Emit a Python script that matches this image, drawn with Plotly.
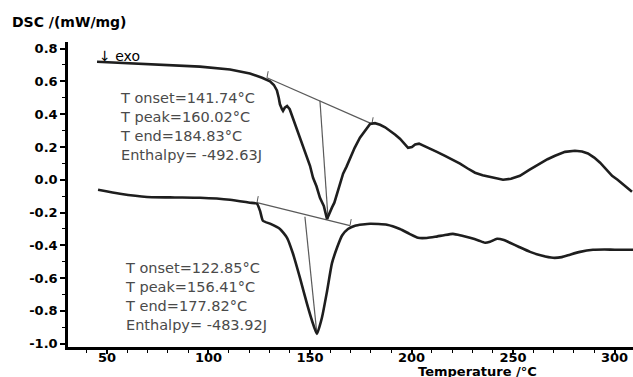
import plotly.graph_objects as go

# ---- data ----
upper_T = [45.1, 60.0, 71.2, 85.0, 95.8, 110.6, 120.4, 126.4, 130.3, 132.2, 133.7, 134.6, 135.2, 136.2,
           136.7, 137.6, 138.7, 140.0, 141.6, 143.2, 145.1, 146.8, 148.5, 150.0, 151.5, 153.2, 154.9,
           156.8, 158.4, 159.5, 160.8, 162.0, 163.3, 164.8, 166.3, 168.0, 169.7, 172.0, 174.6, 177.0,
           179.6, 182.0, 184.5, 187.0, 189.4, 192.0, 194.3, 196.5, 198.3, 200.2, 201.8, 203.7, 206.5,
           209.1, 212.5, 216.5, 220.0, 223.9, 227.5, 231.3, 235.0, 238.7, 242.0, 245.1, 249.0, 253.4,
           258.0, 263.3, 267.0, 270.7, 275.6, 280.5, 284.0, 286.9, 290.0, 292.9, 296.0, 298.8, 301.5,
           303.7, 306.0, 308.6]
upper_v = [0.720, 0.710, 0.703, 0.697, 0.690, 0.672, 0.648, 0.622, 0.600, 0.578, 0.545, 0.500, 0.460, 0.430,
           0.420, 0.440, 0.450, 0.430, 0.375, 0.320, 0.256, 0.200, 0.134, 0.085, 0.012, -0.040, -0.110,
           -0.160, -0.240, -0.205, -0.170, -0.140, -0.085, -0.030, 0.037, 0.080, 0.134, 0.195, 0.256, 0.300,
           0.340, 0.345, 0.335, 0.320, 0.300, 0.275, 0.250, 0.220, 0.195, 0.200, 0.215, 0.220, 0.205,
           0.190, 0.170, 0.146, 0.125, 0.098, 0.070, 0.043, 0.028, 0.018, 0.008, 0.000, 0.006, 0.024,
           0.060, 0.098, 0.125, 0.146, 0.170, 0.177, 0.172, 0.160, 0.135, 0.104, 0.062, 0.024, 0.000,
           -0.024, -0.045, -0.073]

lower_T = [45.6, 56.4, 69.7, 83.5, 95.8, 110.6, 120.4, 123.9, 125.4, 126.8, 130.3, 135.2, 138.7, 141.6,
           145.1, 148.5, 151.0, 153.4, 155.9, 158.4, 160.8, 163.3, 165.8, 168.7, 172.2, 179.6, 187.9,
           194.3, 199.0, 203.2, 207.5, 211.6, 216.0, 220.4, 224.5, 228.8, 233.0, 236.2, 238.7, 242.1,
           245.5, 248.5, 253.0, 258.4, 264.0, 269.7, 274.0, 278.1, 283.0, 289.4, 295.0, 300.2, 309.1]
lower_v = [-0.061, -0.085, -0.105, -0.108, -0.110, -0.122, -0.140, -0.146, -0.190, -0.250, -0.268, -0.300,
           -0.354, -0.450, -0.600, -0.756, -0.860, -0.940, -0.840, -0.680, -0.510, -0.415, -0.340, -0.300,
           -0.280, -0.268, -0.274, -0.300, -0.330, -0.354, -0.355, -0.348, -0.338, -0.330, -0.340, -0.354,
           -0.370, -0.384, -0.378, -0.360, -0.368, -0.384, -0.410, -0.440, -0.462, -0.476, -0.472, -0.457,
           -0.440, -0.427, -0.425, -0.427, -0.427]

# construction lines (baseline tangent and peak line) for each curve
upper_base_T = [128.8, 180.5]
upper_base_v = [0.622, 0.341]
upper_peak_T = [154.9, 158.9]
upper_peak_v = [0.482, -0.238]
lower_base_T = [123.9, 169.7]
lower_base_v = [-0.140, -0.280]
lower_peak_T = [147.5, 153.4]
lower_peak_v = [-0.226, -0.940]
end_tick_len = 0.04   # small marker ticks at the ends of the baseline tangents

x_ticks = [50, 100, 150, 200, 250, 300]
x_labels = ["50", "100", "150", "200", "250", "300"]
y_ticks = [0.8, 0.6, 0.4, 0.2, 0.0, -0.2, -0.4, -0.6, -0.8, -1.0]
y_labels = ["0.8", "0.6", "0.4", "0.2", "0.0", "-0.2", "-0.4", "-0.6", "-0.8", "-1.0"]

upper_text = ["T onset=141.74°C", "T peak=160.02°C", "T end=184.83°C", "Enthalpy= -492.63J"]
lower_text = ["T onset=122.85°C", "T peak=156.41°C", "T end=177.82°C", "Enthalpy= -483.92J"]

CURVE = "#1e1e1e"
THIN = "#5a5a5a"

fig = go.Figure()
for tx, ty in [(upper_base_T, upper_base_v), (upper_peak_T, upper_peak_v),
               (lower_base_T, lower_base_v), (lower_peak_T, lower_peak_v)]:
    fig.add_trace(go.Scatter(x=tx, y=ty, mode="lines", line=dict(color=THIN, width=1.2),
                             hoverinfo="skip", showlegend=False))
# end ticks on the baselines
for tx, ty in [(upper_base_T, upper_base_v), (lower_base_T, lower_base_v)]:
    for t, v in zip(tx, ty):
        fig.add_trace(go.Scatter(x=[t, t + 0.6], y=[v, v + end_tick_len], mode="lines",
                                 line=dict(color=THIN, width=1), hoverinfo="skip", showlegend=False))

fig.add_trace(go.Scatter(x=upper_T, y=upper_v, mode="lines",
                         line=dict(color=CURVE, width=2.6), showlegend=False))
fig.add_trace(go.Scatter(x=lower_T, y=lower_v, mode="lines",
                         line=dict(color=CURVE, width=2.6, shape="spline", smoothing=0.5),
                         showlegend=False))

TICKFONT = dict(family="DejaVu Sans", size=13, color="black", weight="bold")

fig.update_layout(
    width=633, height=377,
    margin=dict(l=68, r=0, t=42, b=30),
    paper_bgcolor="white", plot_bgcolor="white",
    font=dict(family="DejaVu Sans", color="black"),
    xaxis=dict(range=[30.8, 309.1], showgrid=False, zeroline=False,
               showline=True, linecolor="black", linewidth=2.5,
               ticks="outside", ticklen=4, tickwidth=1.5, tickcolor="black",
               tickvals=x_ticks, ticktext=x_labels, tickfont=TICKFONT, ticklabelstandoff=-7,
               minor=dict(ticks="outside", ticklen=3, tickwidth=1, tickcolor="black", dtick=10, tick0=0)),
    yaxis=dict(range=[-1.02, 0.84], showgrid=False, zeroline=False,
               showline=True, linecolor="black", linewidth=2.5,
               ticks="outside", ticklen=5, tickwidth=1.5, tickcolor="black",
               tickvals=y_ticks, ticktext=y_labels, tickfont=TICKFONT,
               minor=dict(ticks="outside", ticklen=3, tickwidth=1, tickcolor="black", dtick=0.1, tick0=0)),
)

# axis titles
fig.add_annotation(text="DSC /(mW/mg)", xref="paper", yref="paper", x=-0.103, y=1.066,
                   xanchor="left", yanchor="middle", showarrow=False,
                   font=dict(family="DejaVu Sans", size=14, color="black", weight="bold"))
fig.add_annotation(text="Temperature /°C", xref="paper", yref="paper", x=0.724, y=-0.079,
                   xanchor="center", yanchor="middle", showarrow=False,
                   font=dict(family="DejaVu Sans", size=13, color="black", weight="bold"))

# exo marker
fig.add_annotation(text="↓ exo", x=45.3, y=0.752, xanchor="left", yanchor="middle", showarrow=False,
                   font=dict(family="DejaVu Sans", size=14, color="black"))

# results text
fig.add_annotation(text="<br>".join(upper_text), x=55.3, y=0.322, xanchor="left", yanchor="middle",
                   align="left", showarrow=False,
                   font=dict(family="DejaVu Sans", size=14.5, color="#4a4a4a"))
fig.add_annotation(text="<br>".join(lower_text), x=57.8, y=-0.714, xanchor="left", yanchor="middle",
                   align="left", showarrow=False,
                   font=dict(family="DejaVu Sans", size=14.5, color="#4a4a4a"))

fig.write_html("out.html")
